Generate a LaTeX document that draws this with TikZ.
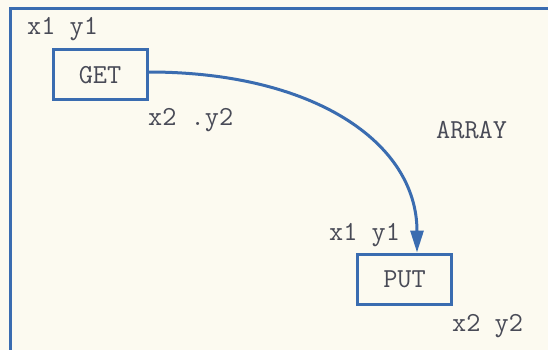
\documentclass[tikz,border=0pt]{standalone}
\usetikzlibrary{arrows.meta}
\definecolor{ink}{RGB}{58,108,176}
\definecolor{txt}{RGB}{72,74,86}
\definecolor{paper}{RGB}{252,250,240}
\begin{document}
\begin{tikzpicture}[x=1pt,y=-1pt,
  lbl/.style={anchor=base west,inner sep=0pt,text=txt,font=\ttfamily\fontsize{27.5}{30}\selectfont},
  box/.style={draw=ink,line width=3pt,minimum width=94pt,minimum height=50pt,inner sep=0pt,text=txt,font=\ttfamily\fontsize{27.5}{30}\selectfont},
  conn/.style={draw=ink,line width=3pt,-{Triangle[length=22pt,width=13pt]}}]
\fill[paper] (0,0) rectangle (548,350);
\useasboundingbox (0,0) rectangle (548,350);
% outer frame
\coordinate (fr) at (548,9);
\coordinate (fc) at (10,9);
\coordinate (fb) at (10,350);
\draw[ink,line width=3pt] (fr) -- (fc) -- (fb);
% boxes
\node[box] (get) at (100,75) {GET};
\node[box] (put) at (404.5,279) {PUT};
% labels
\node[lbl] (l1) at (27,35) {x1 y1};
\node[lbl] (l2) at (148,125) {x2 .y2};
\node[lbl] (arr) at (436,138) {ARRAY};
\node[lbl] (l3) at (329,240) {x1 y1};
\node[lbl] (l4) at (452,331) {x2 y2};
% connector
\draw[conn] ([yshift=3pt]get.east) .. controls +(165,0) and +(0,-110) .. ([xshift=12.5pt]put.north);
\end{tikzpicture}
\end{document}
